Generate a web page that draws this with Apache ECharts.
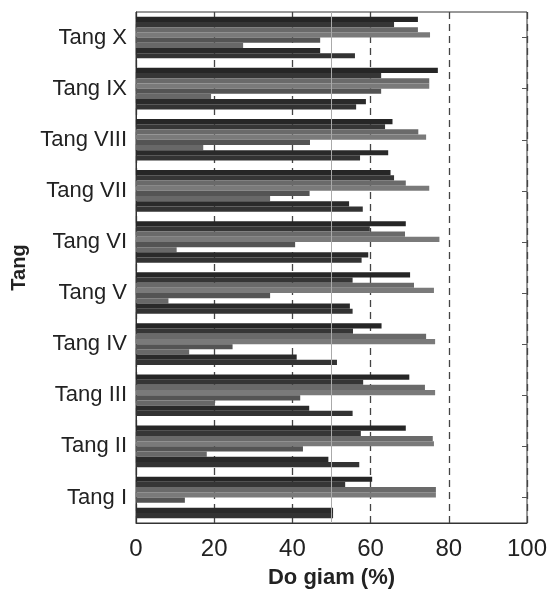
<!DOCTYPE html>
<html lang="en">
<head>
    <meta charset="UTF-8">
    <title>Do giam theo tang</title>
    <script type="text/javascript" src="https://cdn.jsdelivr.net/npm/echarts@6/dist/echarts.min.js"></script>
    <style>
        body { margin: 0; background: #fff; }
        #bar { width: 552px; height: 594px; }
    </style>
</head>
<body>
<div id="bar"></div>
<script>

    // categories, bottom to top
    var tangs = ['Tang I', 'Tang II', 'Tang III', 'Tang IV', 'Tang V',
        'Tang VI', 'Tang VII', 'Tang VIII', 'Tang IX', 'Tang X'];
    var xTicks = [0, 20, 40, 60, 80, 100];

    // 8 bars per group, first one at the top of the group
    var bar1 = [60.4, 69.0, 69.9, 62.8, 70.1, 69.0, 65.1, 65.6, 77.2, 72.1];
    var bar2 = [53.5, 57.5, 58.1, 55.5, 55.4, 59.8, 66.0, 63.7, 62.7, 66.0];
    var bar3 = [76.7, 75.9, 73.9, 74.2, 71.1, 68.8, 69.0, 72.2, 75.0, 72.1];
    var bar4 = [76.7, 76.2, 76.5, 76.5, 76.2, 77.6, 75.0, 74.2, 75.0, 75.2];
    var bar5 = [12.5, 42.7, 42.0, 24.7, 34.3, 40.7, 44.4, 44.5, 62.7, 47.1];
    var bar6 = [0, 18.1, 20.2, 13.6, 8.3, 10.4, 34.3, 17.2, 19.2, 27.4];
    var bar7 = [50.4, 49.2, 44.3, 41.1, 54.7, 59.4, 54.5, 64.5, 58.8, 47.1];
    var bar8 = [50.4, 57.1, 55.4, 51.4, 55.4, 57.7, 58.0, 57.3, 56.3, 56.0];

    var bars = [bar1, bar2, bar3, bar4, bar5, bar6, bar7, bar8];
    var colors = ['#262626', '#363636', '#6a6a6a', '#7a7a7a', '#545454', '#686868', '#2a2a2a', '#333333'];

    var series = bars.map(function (d, i) {
        var s = {
            name: 'S' + (i + 1),
            type: 'bar',
            data: d,
            barGap: '0%',
            barCategoryGap: '18.5%',
            itemStyle: { color: colors[i] },
            silent: true
        };
        if (i == bars.length - 1) {
            // thin line at 50%
            s.markLine = {
                silent: true,
                symbol: 'none',
                label: { show: false },
                lineStyle: { color: '#aaa', width: 1, type: 'solid' },
                data: [{ xAxis: 50 }]
            };
        }
        return s;
    });

    var font = '"Liberation Sans", Arial, sans-serif';

    var option = {
        animation: false,
        grid: {
            left: 136, right: 25, top: 12, bottom: 71,
            outerBoundsMode: 'none',
            containLabel: false,
            show: true, borderColor: '#333', borderWidth: 1
        },
        xAxis: {
            type: 'value',
            min: 0, max: 100, interval: 20,
            name: 'Do giam (%)',
            nameLocation: 'middle',
            nameGap: 44,
            nameTextStyle: { fontFamily: font, fontWeight: 'bold', fontSize: 22, color: '#222' },
            axisLine: { show: true, lineStyle: { color: '#333' } },
            axisTick: { show: false },
            axisLabel: {
                fontFamily: font, fontSize: 24, color: '#222', margin: 14,
                formatter: function (v) { return xTicks.indexOf(v) >= 0 ? v : ''; }
            },
            splitLine: {
                show: true,
                lineStyle: { color: '#444', width: 1.3, type: [7, 5] }
            }
        },
        yAxis: [{
            type: 'category',
            data: tangs,
            name: 'Tang',
            nameLocation: 'middle',
            nameGap: 106,
            nameTextStyle: { fontFamily: font, fontWeight: 'bold', fontSize: 20, color: '#222' },
            axisLine: { show: true, lineStyle: { color: '#333' } },
            axisTick: { show: false },
            axisLabel: { fontFamily: font, fontSize: 22, color: '#222', margin: 9 }
        }, {
            type: 'category',
            data: tangs,
            position: 'right',
            axisLine: { show: false },
            axisTick: { show: true, inside: true, alignWithLabel: true, length: 5, lineStyle: { color: '#555' } },
            axisLabel: { show: false }
        }],
        series: series
    };

    var myChart = echarts.init(document.getElementById('bar'));
    myChart.setOption(option);

</script>
</body>
</html>
